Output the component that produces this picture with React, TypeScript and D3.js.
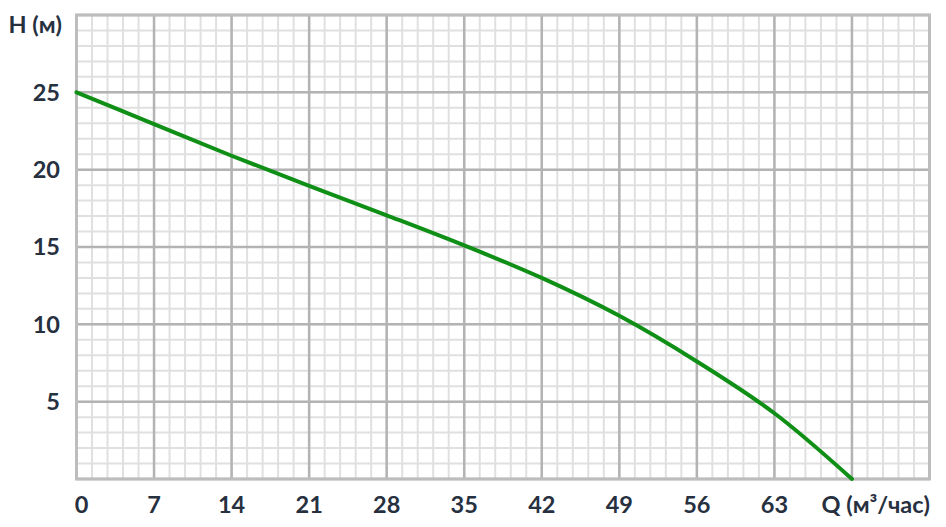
import React from 'react'
import * as d3 from 'd3'

// Pump curve: flow Q (m³/h) vs head H (m)
const flow = [0, 7, 14, 21, 28, 35, 42, 49, 56, 63, 70]
const head = [25, 22.95, 20.9, 18.95, 17.05, 15.1, 13.0, 10.55, 7.6, 4.25, 0]

const xTicks = [0, 7, 14, 21, 28, 35, 42, 49, 56, 63]
const yTicks = [5, 10, 15, 20, 25]
const xLabel = 'Q (м³/час)'
const yLabel = 'H (м)'

const width = 946
const height = 527
const margin = { top: 15, right: 16.5, bottom: 48, left: 76.5 }

const textColor = '#27303f'
const font = 'Lato, "Open Sans", sans-serif'

const App: React.FC = () => {
  const x = d3
    .scaleLinear()
    .domain([0, 77])
    .range([margin.left, width - margin.right])
  const y = d3
    .scaleLinear()
    .domain([0, 30])
    .range([height - margin.bottom, margin.top])

  const xMinor = d3.range(0, 56).map((i) => i * 1.4)
  const yMinor = d3.range(0, 31)
  const xMajor = d3.range(0, 12).map((i) => i * 7)
  const yMajor = d3.range(0, 7).map((i) => i * 5)

  const line = d3
    .line<number>()
    .x((_, i) => x(flow[i]))
    .y((d) => y(d))
    .curve(d3.curveCatmullRom.alpha(0.5))

  const [x0, x1] = x.range()
  const [y0, y1] = y.range()

  return (
    <svg
      width={width}
      height={height}
      style={{ position: 'absolute', left: 0, top: 0, background: '#fff' }}
    >
      {/* minor grid */}
      <g stroke="#e0e0e0" strokeWidth={2}>
        {xMinor.map((d) => (
          <line key={'xm' + d} x1={x(d)} x2={x(d)} y1={y0} y2={y1} />
        ))}
        {yMinor.map((d) => (
          <line key={'ym' + d} x1={x0} x2={x1} y1={y(d)} y2={y(d)} />
        ))}
      </g>
      {/* major grid */}
      <g stroke="#b3b3b3" strokeWidth={2.5}>
        {xMajor.map((d) => (
          <line key={'xM' + d} x1={x(d)} x2={x(d)} y1={y0} y2={y1} />
        ))}
        {yMajor.map((d) => (
          <line key={'yM' + d} x1={x0} x2={x1} y1={y(d)} y2={y(d)} />
        ))}
      </g>
      <rect
        x={x0}
        y={y1}
        width={x1 - x0}
        height={y0 - y1}
        fill="none"
        stroke="#bdbdbd"
        strokeWidth={3}
      />

      <path
        d={line(head) || ''}
        fill="none"
        stroke="#0f8f16"
        strokeWidth={4}
        strokeLinecap="round"
      />

      <g fontFamily={font} fontWeight={700} fontSize={23.5} fill={textColor}>
        {yTicks.map((d) => (
          <text key={'yt' + d} x={60} y={y(d)} dy="0.36em" textAnchor="end">
            {d}
          </text>
        ))}
        {xTicks.map((d) => (
          <text
            key={'xt' + d}
            x={x(d) + (d === 0 ? 5 : 0)}
            y={y0 + 26}
            dy="0.36em"
            textAnchor="middle"
          >
            {d}
          </text>
        ))}
        <text x={62} y={25} dy="0.36em" textAnchor="end">
          {yLabel}
        </text>
        <text x={930} y={y0 + 26} dy="0.36em" textAnchor="end">
          {xLabel}
        </text>
      </g>
    </svg>
  )
}

export default App
